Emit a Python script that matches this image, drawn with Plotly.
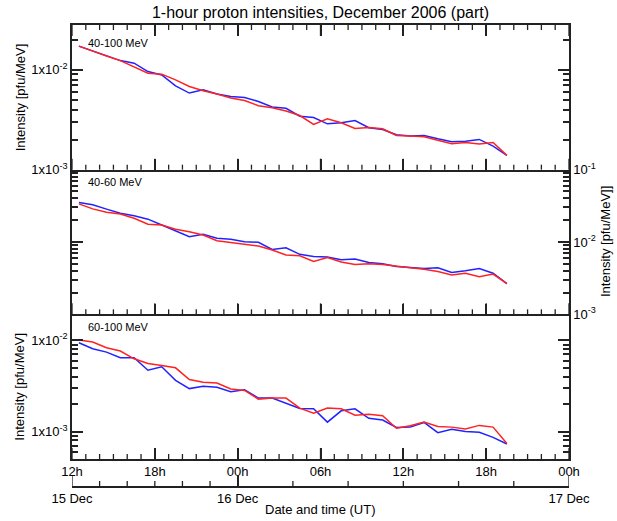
import plotly.graph_objects as go

# ---- data: hourly values, x = hours since 15 Dec 2006 00:00 UT (12.5 ... 43.5) ----
hours = [12.5 + i for i in range(32)]

ch_top = "40-100 MeV"
ch_mid = "40-60 MeV"
ch_bot = "60-100 MeV"

top_blue = [0.0173, 0.01556, 0.0140, 0.01239, 0.01167, 0.00962, 0.00891, 0.00693,
            0.00586, 0.00632, 0.00573, 0.00542, 0.0053, 0.00483, 0.00425, 0.00412,
            0.00343, 0.00333, 0.00288, 0.00295, 0.00311, 0.00263, 0.00253, 0.00224,
            0.00217, 0.0022, 0.00204, 0.00191, 0.00193, 0.00201, 0.00172, 0.00139]
top_red = [0.0173, 0.01535, 0.01378, 0.0124, 0.0108, 0.00927, 0.00906, 0.00794,
           0.00682, 0.00618, 0.00573, 0.00522, 0.00494, 0.00438, 0.00418, 0.00388,
           0.00349, 0.00284, 0.00323, 0.00295, 0.00259, 0.00265, 0.00257, 0.0022,
           0.00217, 0.00214, 0.00197, 0.00182, 0.00187, 0.00181, 0.00187, 0.00139]

mid_blue = [0.0352, 0.0327, 0.0285, 0.0250, 0.0230, 0.0207, 0.0172, 0.01436,
            0.01186, 0.0128, 0.01125, 0.0109, 0.0101, 0.0099, 0.0079, 0.00834,
            0.00675, 0.0063, 0.0062, 0.0057, 0.0058, 0.0052, 0.0050, 0.0046,
            0.0045, 0.0043, 0.0044, 0.0038, 0.0040, 0.0043, 0.0037, 0.00265]
mid_red = [0.0337, 0.0287, 0.0258, 0.0243, 0.0213, 0.0176, 0.0172, 0.0150,
           0.0139, 0.0125, 0.0104, 0.00978, 0.00929, 0.00879, 0.00774, 0.0066,
           0.00646, 0.0054, 0.0061, 0.0053, 0.0049, 0.0050, 0.0049, 0.0046,
           0.0044, 0.0042, 0.0039, 0.0035, 0.0037, 0.0033, 0.0036, 0.00265]

bot_blue = [0.00942, 0.00809, 0.00743, 0.00644, 0.00644, 0.00471, 0.00513, 0.00365,
            0.00296, 0.00314, 0.00306, 0.00274, 0.00288, 0.00233, 0.00233, 0.00205,
            0.00179, 0.00178, 0.00127, 0.00169, 0.00178, 0.0014, 0.00134, 0.00111,
            0.00112, 0.00126, 0.000975, 0.00106, 0.0010, 0.000984, 0.000866, 0.000731]
bot_red = [0.0101, 0.0096, 0.0083, 0.00763, 0.00628, 0.00557, 0.0053, 0.0050,
           0.00372, 0.00347, 0.00341, 0.00293, 0.00283, 0.00227, 0.00233, 0.00233,
           0.00181, 0.00159, 0.00181, 0.00178, 0.00151, 0.00155, 0.00149, 0.00109,
           0.00116, 0.00127, 0.00114, 0.00112, 0.00107, 0.00117, 0.00112, 0.000743]

hour_ticks = [12, 18, 24, 30, 36, 42, 48]
hour_labels = ["12h", "18h", "00h", "06h", "12h", "18h", "00h"]
hour_minor = [h for h in range(13, 48) if h % 6 != 0]
day_ticks = [12, 24, 48]
day_labels = ["15 Dec", "16 Dec", "17 Dec"]
day_minor = [14, 16, 18, 20, 22, 28, 32, 36, 40, 44]
x_range = [12, 48]

BLUE = "#2222ff"
RED = "#ff2222"
AX = "#222222"
FONT = "Liberation Sans, Arial, sans-serif"

def minor_log(lo_dec, hi_dec):
    vals = []
    for d in range(lo_dec, hi_dec + 1):
        for k in range(2, 10):
            vals.append(k * 10.0 ** d)
    return vals

fig = go.Figure()
for xa, ya, b, r in [("x", "y", top_blue, top_red),
                     ("x2", "y2", mid_blue, mid_red),
                     ("x3", "y3", bot_blue, bot_red)]:
    fig.add_trace(go.Scatter(x=hours, y=b, mode="lines", line=dict(color=BLUE, width=1.5),
                             xaxis=xa, yaxis=ya, showlegend=False))
    fig.add_trace(go.Scatter(x=hours, y=r, mode="lines", line=dict(color=RED, width=1.5),
                             xaxis=xa, yaxis=ya, showlegend=False))
# empty carrier traces for the tick-only overlay axes
for xa, ya in [("x4", "y3"), ("x", "y4"), ("x2", "y5"), ("x3", "y6")]:
    fig.add_trace(go.Scatter(x=[hours[0]], y=[None], mode="lines", xaxis=xa, yaxis=ya,
                             showlegend=False, hoverinfo="skip"))

TOP, BOT_MARGIN = 25, 34
H = 521.0 - TOP - BOT_MARGIN
PANEL_PX = (459.0 - TOP) / 3.0
pb = (521.0 - BOT_MARGIN - 459.0) / H
ph = (1.0 - pb) / 3.0
dom_bot = [pb, pb + ph]
dom_mid = [pb + ph, pb + 2 * ph]
dom_top = [pb + 2 * ph, 1.0]

base = dict(showgrid=False, zeroline=False, tickcolor=AX, ticks="inside", automargin=False,
            tickfont=dict(size=13, color="black"))

def xmajor(anchor, labels, mirror):
    return dict(base, type="linear", range=x_range, anchor=anchor, tickmode="array",
                tickvals=hour_ticks, ticktext=hour_labels, ticklen=11, tickwidth=1.5,
                showline=True, linecolor=AX, linewidth=1.5, mirror=mirror,
                showticklabels=labels)

def ymajor(dom, anchor, side, rng, vals, texts):
    return dict(base, type="log", domain=dom, anchor=anchor, side=side, range=rng,
                tickmode="array", tickvals=vals, ticktext=texts, ticklen=11, tickwidth=1.5,
                showline=True, linecolor=AX, linewidth=1.5, mirror="ticks")

def yminor(dom, anchor, over, side, rng, vals):
    return dict(base, type="log", domain=dom, anchor=anchor, overlaying=over, side=side,
                range=rng, tickmode="array", tickvals=vals, ticklen=6, tickwidth=1.5,
                showline=False, mirror="ticks", showticklabels=False)

r_top, r_mid, r_bot = [-3, -1.55], [-3, -1], [-3.3, -1.715]

fig.update_layout(
    width=617, height=521,
    margin=dict(l=72, r=48, t=TOP, b=BOT_MARGIN, autoexpand=False),
    paper_bgcolor="white", plot_bgcolor="rgba(0,0,0,0)",
    font=dict(family=FONT, color="black"),
    title=dict(text="1-hour proton intensities, December 2006 (part)", x=0.5, xref="paper",
               y=1 - 12.0 / 521, yanchor="middle", font=dict(size=16, color="black")),
    xaxis=xmajor("y", False, "ticks"),
    xaxis2=xmajor("y2", False, False),
    xaxis3=xmajor("y3", True, False),
    xaxis4=dict(base, type="linear", range=x_range, anchor="free", position=0, overlaying="x3",
                tickmode="array", tickvals=day_ticks, ticktext=day_labels,
                ticklen=11, tickwidth=1.5, showline=True, linecolor=AX,
                linewidth=1.5, side="bottom"),
    yaxis=ymajor(dom_top, "x", "left", r_top, [1e-3, 1e-2],
                 ["1x10<sup>-3</sup>", "1x10<sup>-2</sup>"]),
    yaxis2=ymajor(dom_mid, "x2", "right", r_mid, [1e-3, 1e-2, 1e-1],
                  ["10<sup>-3</sup>", "10<sup>-2</sup>", "10<sup>-1</sup>"]),
    yaxis3=ymajor(dom_bot, "x3", "left", r_bot, [1e-3, 1e-2],
                  ["1x10<sup>-3</sup>", "1x10<sup>-2</sup>"]),
    yaxis4=yminor(dom_top, "x", "y", "left", r_top, minor_log(-3, -2)),
    yaxis5=yminor(dom_mid, "x2", "y2", "right", r_mid, minor_log(-3, -2)),
    yaxis6=yminor(dom_bot, "x3", "y3", "left", r_bot, minor_log(-4, -2)),
)

# x-axis tick marks (drawn explicitly along each panel edge)
shapes = []
def tick(xref, yref, xv, y0, y1, w=1.3):
    shapes.append(dict(type="line", xref=xref, yref=yref, x0=xv, x1=xv, y0=y0, y1=y1,
                       line=dict(color=AX, width=w), layer="above"))

MAJ, MIN = 11.0 / PANEL_PX, 5.0 / PANEL_PX
for xr, yr, both in [("x", "y domain", True), ("x2", "y2 domain", False), ("x3", "y3 domain", False)]:
    for v in hour_ticks:
        tick(xr, yr, v, 0, MAJ)
        if both:
            tick(xr, yr, v, 1, 1 - MAJ)
    for v in hour_minor:
        tick(xr, yr, v, 0, MIN)
        if both:
            tick(xr, yr, v, 1, 1 - MIN)
# date axis below the plot
for v in day_ticks:
    tick("x3", "paper", v, 0, 11.0 / H)
for v in day_minor:
    tick("x3", "paper", v, 0, 6.0 / H)
shapes.append(dict(type="line", xref="x3", yref="paper", x0=x_range[0], x1=x_range[1], y0=0, y1=0,
                   line=dict(color=AX, width=1.5), layer="above"))

PW = 617 - 72 - 48.0
def ypix(p):  # pixel from top -> paper fraction
    return (521.0 - BOT_MARGIN - p) / H

ann = [
    dict(text="Intensity [pfu/MeV]", x=(20 - 72) / PW, y=(dom_top[0] + dom_top[1]) / 2,
         textangle=-90, font=dict(size=13)),
    dict(text="Intensity [pfu/MeV]", x=(20 - 72) / PW, y=(dom_bot[0] + dom_bot[1]) / 2,
         textangle=-90, font=dict(size=13)),
    dict(text="Intensity [pfu/MeV]]", x=(605 - 72) / PW, y=(dom_mid[0] + dom_mid[1]) / 2,
         textangle=-90, font=dict(size=13)),
    dict(text="Date and time (UT)", x=0.5, y=ypix(510), font=dict(size=13)),
    dict(text=ch_top, x=(86 - 72) / PW, y=ypix(43), xanchor="left", font=dict(size=11)),
    dict(text=ch_mid, x=(86 - 72) / PW, y=ypix(182), xanchor="left", font=dict(size=11)),
    dict(text=ch_bot, x=(86 - 72) / PW, y=ypix(327), xanchor="left", font=dict(size=11)),
]
for a in ann:
    a.update(xref="paper", yref="paper", showarrow=False, yanchor="middle")
    a.setdefault("xanchor", "center")
    a["font"]["color"] = "black"
fig.update_layout(annotations=ann, shapes=shapes)

fig.write_html("out.html")
